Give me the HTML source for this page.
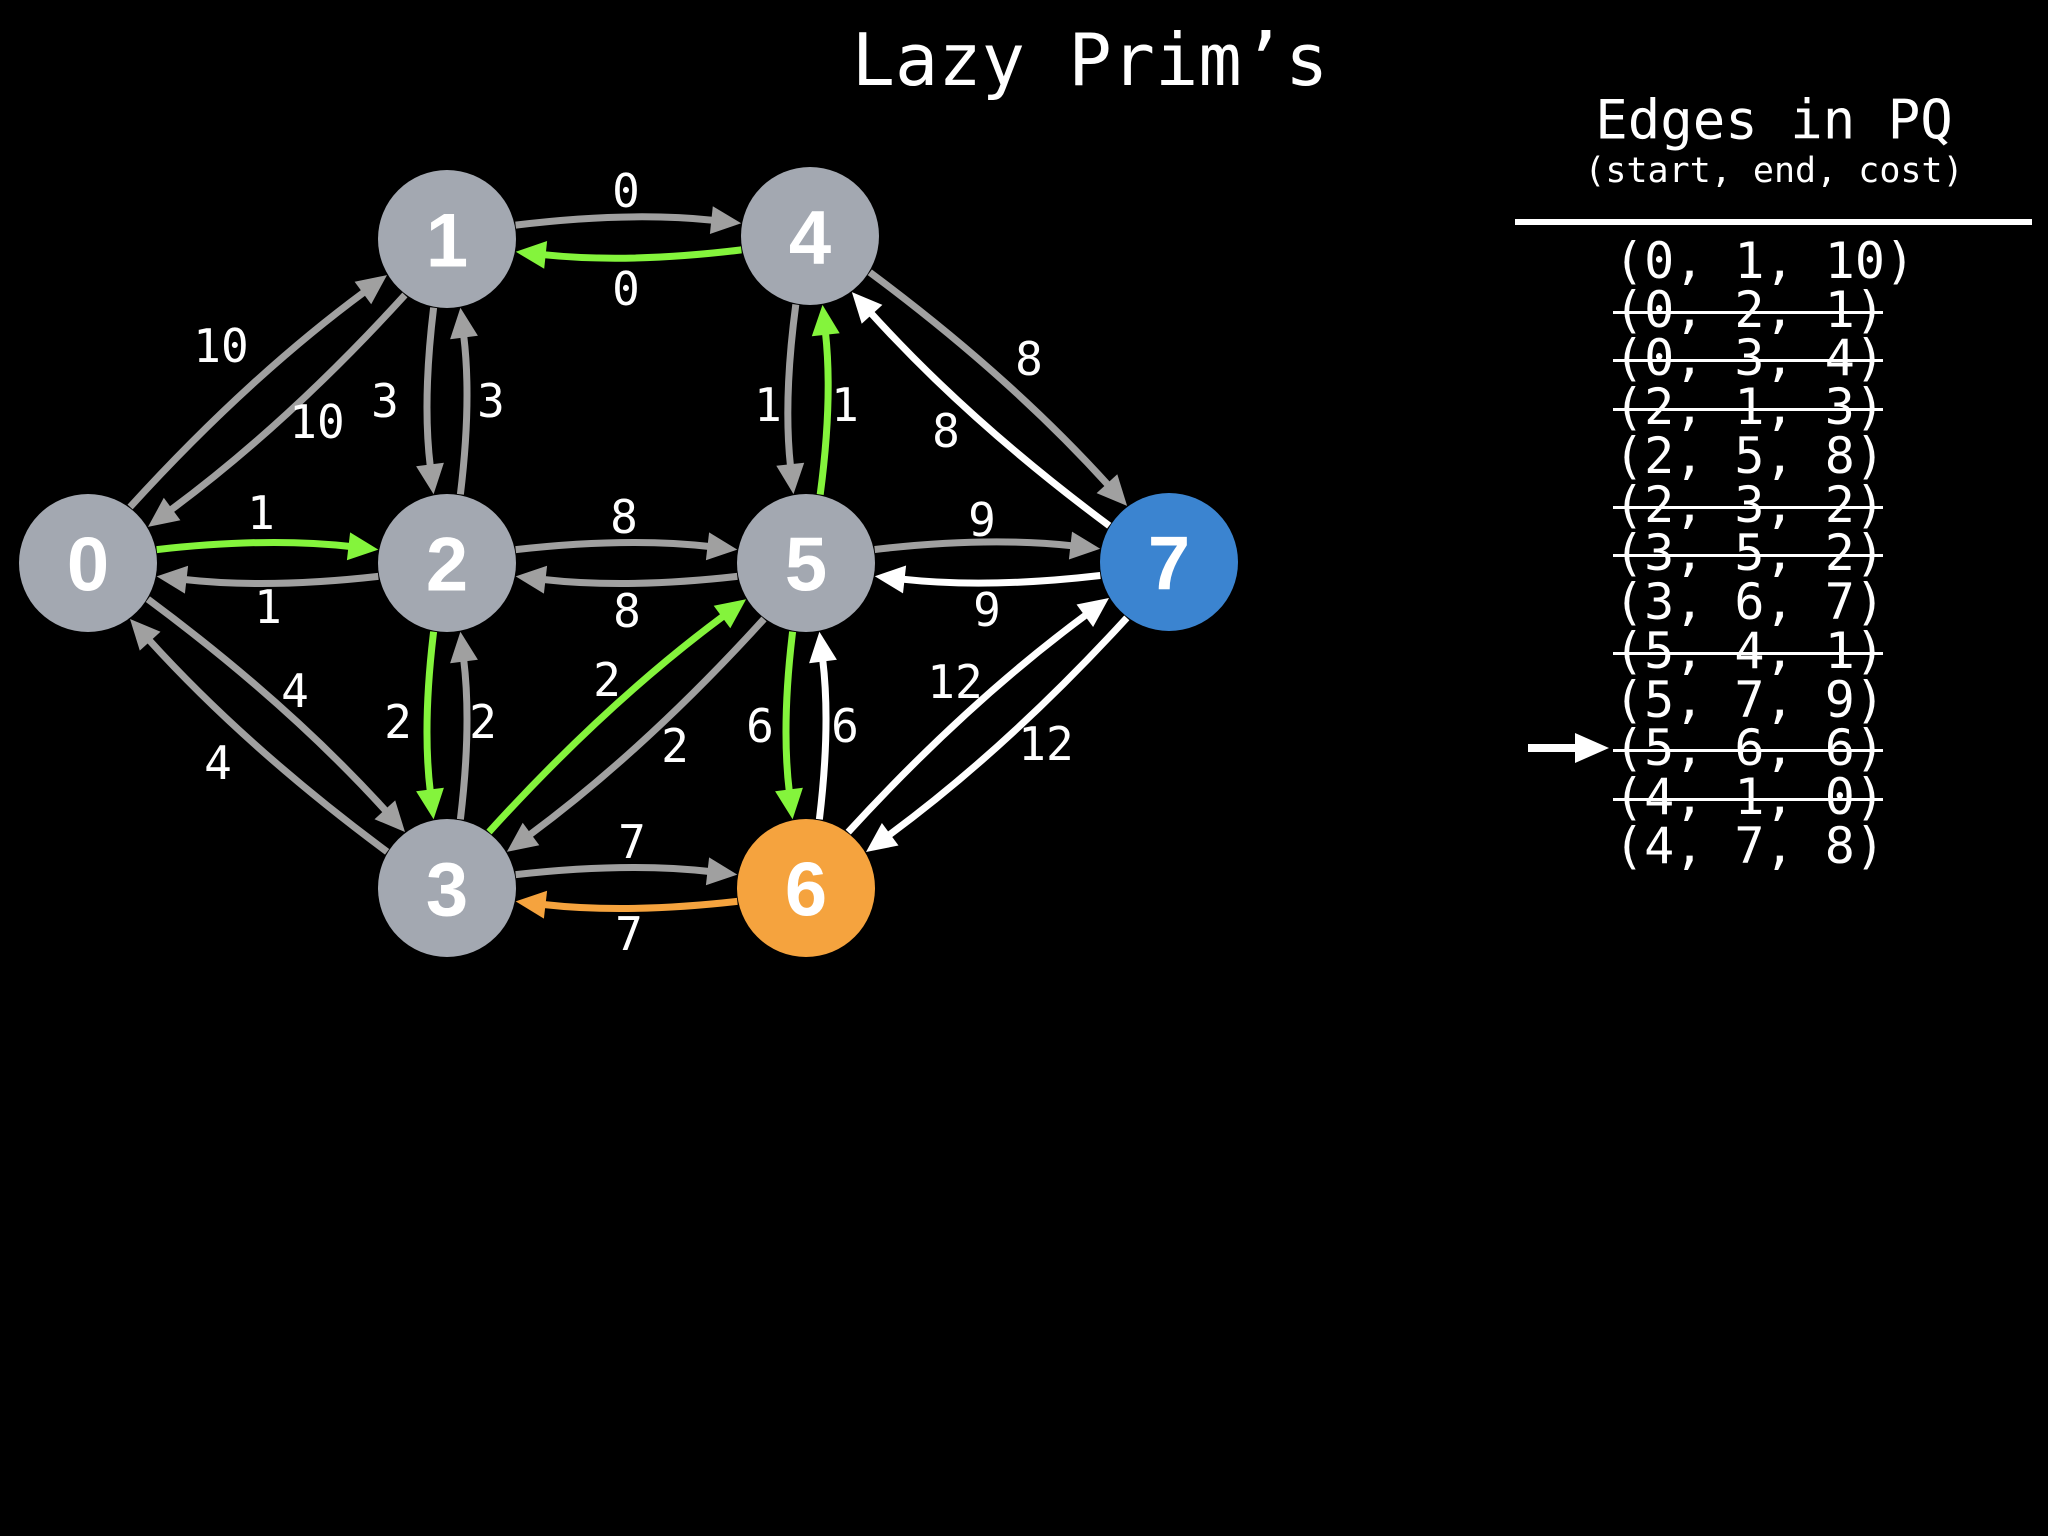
<!DOCTYPE html>
<html><head><meta charset="utf-8">
<style>
html,body{margin:0;padding:0;background:#000;}
svg{display:block;}
.mono{font-family:"DejaVu Sans Mono","Liberation Mono",monospace;fill:#fff;}
.nl{font-family:"Liberation Sans",sans-serif;font-weight:bold;font-size:76px;fill:#fff;}
</style></head>
<body>
<svg id="s" width="2048" height="1536" viewBox="0 0 2048 1536" xmlns="http://www.w3.org/2000/svg">
<rect width="2048" height="1536" fill="#000"/>
<g id="edges"></g>
<g id="nodes">
<circle cx="88" cy="563" r="69" fill="#a3a8b1"/>
<circle cx="447" cy="239" r="69" fill="#a3a8b1"/>
<circle cx="810" cy="236" r="69" fill="#a3a8b1"/>
<circle cx="447" cy="563" r="69" fill="#a3a8b1"/>
<circle cx="806" cy="563" r="69" fill="#a3a8b1"/>
<circle cx="1169" cy="562" r="69" fill="#3b84d0"/>
<circle cx="447" cy="888" r="69" fill="#a3a8b1"/>
<circle cx="806" cy="888" r="69" fill="#f5a33e"/>
</g>
<g class="nl" text-anchor="middle" dominant-baseline="central">
<text x="88" y="565">0</text>
<text x="447" y="241">1</text>
<text x="810" y="238">4</text>
<text x="447" y="565">2</text>
<text x="806" y="565">5</text>
<text x="1169" y="564">7</text>
<text x="447" y="890">3</text>
<text x="806" y="890">6</text>
</g>
<g class="mono" font-size="46" text-anchor="middle" dominant-baseline="central">
<text x="626" y="191">0</text><text x="626" y="289">0</text>
<text x="221" y="346">10</text><text x="317" y="422">10</text>
<text x="385" y="401">3</text><text x="491" y="401">3</text>
<text x="261" y="513">1</text><text x="268" y="607">1</text>
<text x="624" y="517">8</text><text x="627" y="611">8</text>
<text x="768" y="405">1</text><text x="845" y="405">1</text>
<text x="1029" y="359">8</text><text x="946" y="431">8</text>
<text x="982" y="520">9</text><text x="987" y="610">9</text>
<text x="295" y="691">4</text><text x="218" y="763">4</text>
<text x="398" y="722">2</text><text x="483" y="722">2</text>
<text x="607" y="680">2</text><text x="675" y="746">2</text>
<text x="760" y="726">6</text><text x="845" y="726">6</text>
<text x="955" y="682">12</text><text x="1046" y="744">12</text>
<text x="632" y="842">7</text><text x="629" y="934">7</text>
</g>
<text class="mono" x="1090" y="60" font-size="72" text-anchor="middle" dominant-baseline="central">Lazy Prim’s</text>
<text class="mono" x="1774" y="120" font-size="54" text-anchor="middle" dominant-baseline="central">Edges in PQ</text>
<text class="mono" x="1774" y="171" font-size="35" text-anchor="middle" dominant-baseline="central">(start, end, cost)</text>
<rect x="1515" y="219" width="517" height="6" fill="#fff"/>
<g class="mono" font-size="50" dominant-baseline="central">
<text x="1614" y="261">(0, 1, 10)</text>
<text x="1614" y="310">(0, 2, 1)</text>
<text x="1614" y="358">(0, 3, 4)</text>
<text x="1614" y="407">(2, 1, 3)</text>
<text x="1614" y="456">(2, 5, 8)</text>
<text x="1614" y="505">(2, 3, 2)</text>
<text x="1614" y="553">(3, 5, 2)</text>
<text x="1614" y="602">(3, 6, 7)</text>
<text x="1614" y="651">(5, 4, 1)</text>
<text x="1614" y="700">(5, 7, 9)</text>
<text x="1614" y="748">(5, 6, 6)</text>
<text x="1614" y="797">(4, 1, 0)</text>
<text x="1614" y="846">(4, 7, 8)</text>
</g>
<g fill="#fff">
<rect x="1613" y="311" width="270" height="3"/>
<rect x="1613" y="359" width="270" height="3"/>
<rect x="1613" y="408" width="270" height="3"/>
<rect x="1613" y="506" width="270" height="3"/>
<rect x="1613" y="554" width="270" height="3"/>
<rect x="1613" y="652" width="270" height="3"/>
<rect x="1613" y="749" width="270" height="3"/>
<rect x="1613" y="798" width="270" height="3"/>
<rect x="1528" y="744" width="50" height="8"/>
<polygon points="1575,733 1609,748 1575,763"/>
</g>
</svg>
<script>
(function(){
var N={0:[88,563],1:[447,239],4:[810,236],2:[447,563],5:[806,563],7:[1169,562],3:[447,888],6:[806,888]};
var G="#a0a0a0",GR="#84f43c",W="#ffffff",O="#f5a33e";
var E=[[1,4,G,-1],[4,1,GR,-1],[0,1,G,-1],[1,0,G,-1],[1,2,G,1],[2,1,G,1],[0,2,GR,-1],[2,0,G,-1],
[2,5,G,-1],[5,2,G,-1],[4,5,G,1],[5,4,GR,1],[4,7,G,-1],[7,4,W,-1],[5,7,G,-1],[7,5,W,-1],
[0,3,G,-1],[3,0,G,-1],[2,3,GR,1],[3,2,G,1],[3,5,GR,-1],[5,3,G,-1],[5,6,GR,1],[6,5,W,1],
[6,7,W,-1],[7,6,W,-1],[3,6,G,-1],[6,3,O,-1]];
var R=70,th=11*Math.PI/180,out="";
function rot(v,a){return [v[0]*Math.cos(a)-v[1]*Math.sin(a),v[0]*Math.sin(a)+v[1]*Math.cos(a)];}
E.forEach(function(e){
 var A=N[e[0]],B=N[e[1]],c=e[2],s=e[3];
 var dx=B[0]-A[0],dy=B[1]-A[1],d=Math.hypot(dx,dy),u=[dx/d,dy/d],n=[-u[1],u[0]];
 var sgn=(n[0]*rot(u,th)[0]+n[1]*rot(u,th)[1])>0?1:-1;
 var ru=rot(u,th*s*sgn);
 var S=[A[0]+R*ru[0],A[1]+R*ru[1]];
 var mu=[-u[0],-u[1]],rv=rot(mu,-th*s*sgn);
 var T=[B[0]+R*rv[0],B[1]+R*rv[1]];
 var bow=0.035*d;
 var C=[(S[0]+T[0])/2+n[0]*s*bow,(S[1]+T[1])/2+n[1]*s*bow];
 var tx=T[0]-C[0],ty=T[1]-C[1],tl=Math.hypot(tx,ty);tx/=tl;ty/=tl;
 var L=30,Wd=14;
 var Bx=T[0]-tx*L,By=T[1]-ty*L;
 out+='<path d="M'+S[0].toFixed(1)+','+S[1].toFixed(1)+' Q'+C[0].toFixed(1)+','+C[1].toFixed(1)+' '+(Bx+tx*2).toFixed(1)+','+(By+ty*2).toFixed(1)+'" fill="none" stroke="'+c+'" stroke-width="7"/>';
 out+='<polygon points="'+T[0].toFixed(1)+','+T[1].toFixed(1)+' '+(Bx-ty*Wd).toFixed(1)+','+(By+tx*Wd).toFixed(1)+' '+(Bx+ty*Wd).toFixed(1)+','+(By-tx*Wd).toFixed(1)+'" fill="'+c+'"/>';
});
document.getElementById("edges").innerHTML=out;
})();
</script>
</body></html>
